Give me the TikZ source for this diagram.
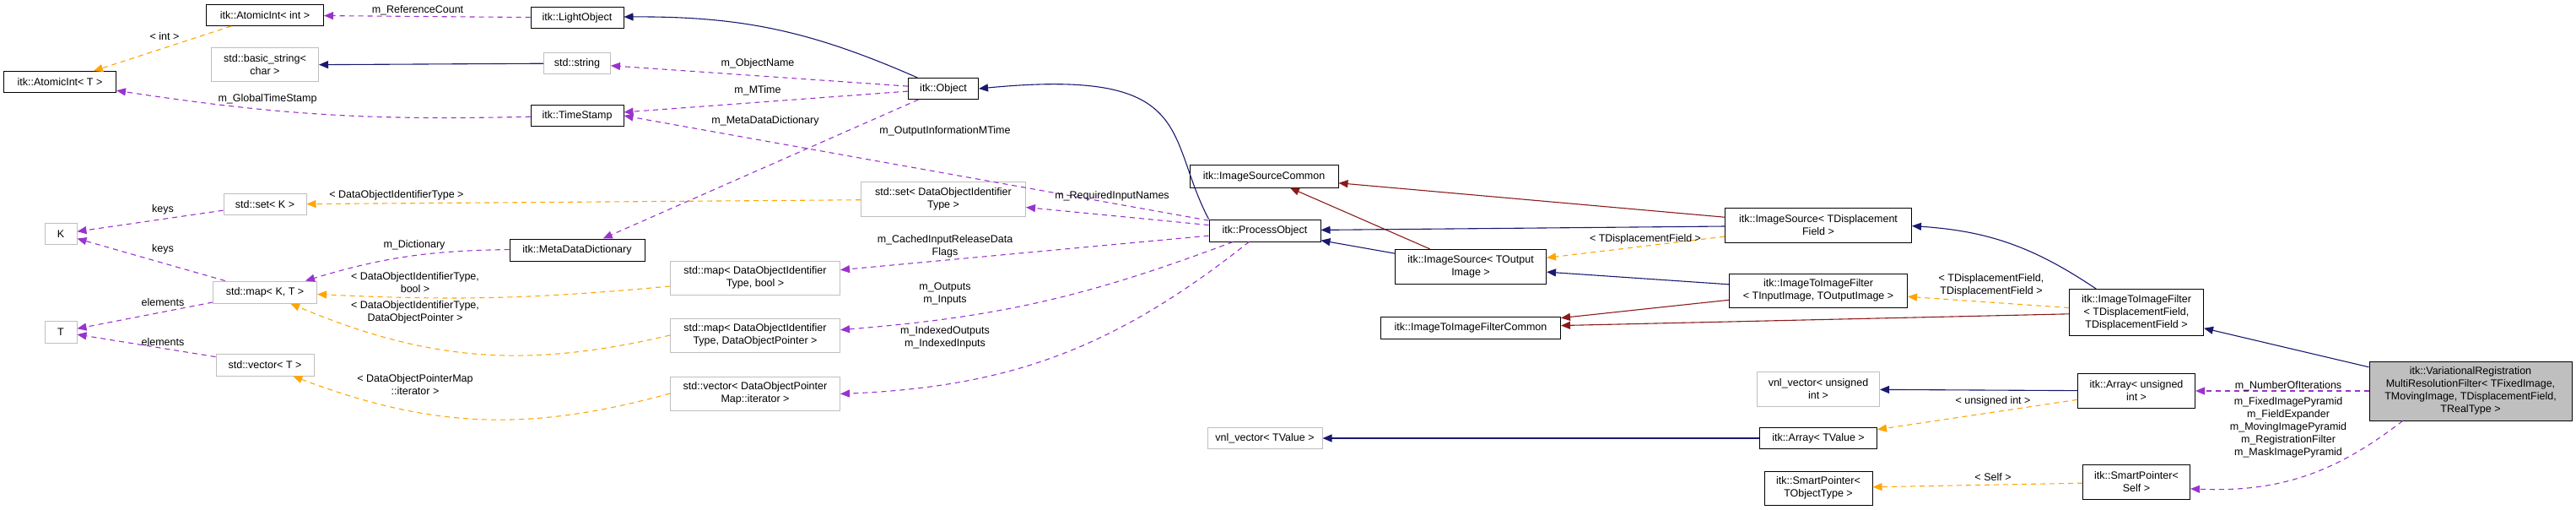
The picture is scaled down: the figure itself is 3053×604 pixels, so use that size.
\documentclass[tikz,border=0pt]{standalone}
\usepackage{fontspec}
\setmainfont{Liberation Sans}
\usetikzlibrary{arrows.meta}
\definecolor{pur}{HTML}{9A32CD}
\definecolor{org}{HTML}{FFA500}
\definecolor{blu}{HTML}{191970}
\definecolor{red}{HTML}{8B1A1A}
\definecolor{gbord}{HTML}{BFBFBF}
\begin{document}
\begin{tikzpicture}[x=1pt,y=-1pt,
  every node/.style={font=\fontsize{12.5}{15}\selectfont, inner sep=0pt, align=center},
  doc/.style={draw=black, line width=1pt, fill=white},
  und/.style={draw=gbord, line width=1pt, fill=white},
  mem/.style={draw=pur, dash pattern=on 6pt off 5pt, line width=1.1pt, -{Triangle[length=11pt,width=9pt,fill=pur]}},
  tpl/.style={draw=org, dash pattern=on 6pt off 5pt, line width=1.1pt, -{Triangle[length=11pt,width=9pt,fill=org]}},
  inh/.style={draw=blu, line width=1.1pt, -{Triangle[length=11pt,width=9pt,fill=blu]}},
  prv/.style={draw=red, line width=1.1pt, -{Triangle[length=11pt,width=9pt,fill=red]}},
  lbl/.style={fill=none}]
\useasboundingbox (0,0) rectangle (3053,604);
% nodes
\node[doc, minimum width=139, minimum height=25] (ai) at (314,18) {itk::AtomicInt< int >};
\node[doc, minimum width=110, minimum height=25] (lo) at (684,21) {itk::LightObject};
\node[und, minimum width=127, minimum height=40] (bs) at (314,77) {std::basic\_string<\\char >};
\node[und, minimum width=79, minimum height=25] (ss) at (684,75) {std::string};
\node[doc, minimum width=133, minimum height=25] (at) at (71,97) {itk::AtomicInt< T >};
\node[doc, minimum width=110, minimum height=25] (ts) at (684,137) {itk::TimeStamp};
\node[und, minimum width=98, minimum height=25] (sk) at (314,242) {std::set< K >};
\node[und, minimum width=38, minimum height=25] (K) at (72,277) {K};
\node[doc, minimum width=160, minimum height=26] (md) at (684,296) {itk::MetaDataDictionary};
\node[und, minimum width=123, minimum height=26] (mkt) at (314,346) {std::map< K, T >};
\node[und, minimum width=38, minimum height=26] (T) at (72,393) {T};
\node[und, minimum width=116, minimum height=26] (vt) at (314,432) {std::vector< T >};
\node[doc, minimum width=83, minimum height=25] (ob) at (1118,105) {itk::Object};
\node[und, minimum width=195, minimum height=41] (sd) at (1118,236) {std::set< DataObjectIdentifier\\Type >};
\node[und, minimum width=201, minimum height=40] (mb) at (895,329) {std::map< DataObjectIdentifier\\Type, bool >};
\node[und, minimum width=201, minimum height=40] (mp) at (895,397) {std::map< DataObjectIdentifier\\Type, DataObjectPointer >};
\node[und, minimum width=201, minimum height=40] (vd) at (895,466) {std::vector< DataObjectPointer\\Map::iterator >};
\node[doc, minimum width=132, minimum height=26] (po) at (1499,273) {itk::ProcessObject};
\node[doc, minimum width=176, minimum height=26] (isc) at (1498,209) {itk::ImageSourceCommon};
\node[doc, minimum width=179, minimum height=41] (iso) at (1743,316) {itk::ImageSource< TOutput\\Image >};
\node[doc, minimum width=213, minimum height=26] (ifc) at (1743,388) {itk::ImageToImageFilterCommon};
\node[doc, minimum width=221, minimum height=41] (isd) at (2155,267) {itk::ImageSource< TDisplacement\\Field >};
\node[doc, minimum width=211, minimum height=40] (ifio) at (2155,344) {itk::ImageToImageFilter\\< TInputImage, TOutputImage >};
\node[doc, minimum width=159, minimum height=55] (ifd) at (2532,370) {itk::ImageToImageFilter\\< TDisplacementField,\\TDisplacementField >};
\node[doc, fill=gbord, minimum width=240, minimum height=70] (vr) at (2928,463) {itk::VariationalRegistration\\MultiResolutionFilter< TFixedImage,\\TMovingImage, TDisplacementField,\\TRealType >};
\node[doc, minimum width=139, minimum height=41] (au) at (2532,463) {itk::Array< unsigned\\int >};
\node[und, minimum width=145, minimum height=41] (vu) at (2155,461) {vnl\_vector< unsigned\\int >};
\node[doc, minimum width=139, minimum height=25] (av) at (2155,519) {itk::Array< TValue >};
\node[und, minimum width=136, minimum height=25] (vv) at (1499,519) {vnl\_vector< TValue >};
\node[doc, minimum width=128, minimum height=40] (spt) at (2155,578) {itk::SmartPointer<\\TObjectType >};
\node[doc, minimum width=127, minimum height=41] (sps) at (2532,571) {itk::SmartPointer<\\Self >};
% edges
\draw[mem] (lo) -- (ai);
\node[lbl] (l1) at (495,12) {m\_ReferenceCount};
\draw[tpl] (ai) -- (at);
\node[lbl] (l2) at (195,43) {< int >};
\draw[inh] (ss) -- (bs);
\draw[mem] (ts) to[bend left=5] (at);
\node[lbl] (l3) at (317,117) {m\_GlobalTimeStamp};
\draw[inh] (ob) to[bend right=12] (lo);
\draw[mem] (ob) -- (ss);
\node[lbl] (l4) at (898,75) {m\_ObjectName};
\draw[mem] (ob) -- (ts);
\node[lbl] (l5) at (898,107) {m\_MTime};
\draw[mem] (ob) -- (md);
\node[lbl] (l6) at (907,143) {m\_MetaDataDictionary};
\draw[mem] (po) -- (ts.east);
\node[lbl] (l7) at (1120,155) {m\_OutputInformationMTime};
\draw[inh] (po.north west) .. controls (1380,160) and (1420,80) .. (ob.east);
\draw[tpl] (sd) -- (sk);
\node[lbl] (l8) at (470,231) {< DataObjectIdentifierType >};
\draw[mem] (sk) -- (K);
\node[lbl] (l9) at (193,248) {keys};
\draw[mem] (mkt) -- (K);
\node[lbl] (l10) at (193,295) {keys};
\draw[mem] (md) to[bend right=8] (mkt);
\node[lbl] (l11) at (491,290) {m\_Dictionary};
\draw[tpl] (mb) to[bend left=4] (mkt);
\node[lbl] (l12) at (492,335) {< DataObjectIdentifierType,\\bool >};
\draw[tpl] (mp.west) to[bend left=18] (mkt);
\node[lbl] (l13) at (492,370) {< DataObjectIdentifierType,\\DataObjectPointer >};
\draw[mem] (mkt) -- (T);
\node[lbl] (l14) at (193,358) {elements};
\draw[mem] (vt) -- (T);
\node[lbl] (l15) at (193,405) {elements};
\draw[tpl] (vd.west) to[bend left=18] (vt);
\node[lbl] (l16) at (492,456) {< DataObjectPointerMap\\::iterator >};
\draw[mem] (po) -- (sd);
\node[lbl] (l17) at (1318,232) {m\_RequiredInputNames};
\draw[mem] (po) -- (mb);
\node[lbl] (l18) at (1120,292) {m\_CachedInputReleaseData\\Flags};
\draw[mem] (po) to[bend left=8] (mp);
\node[lbl] (l19) at (1120,348) {m\_Outputs\\m\_Inputs};
\draw[mem] (po) to[bend left=18] (vd);
\node[lbl] (l20) at (1120,400) {m\_IndexedOutputs\\m\_IndexedInputs};
\draw[inh] (iso) -- (po);
\draw[prv] (iso) -- (isc);
\draw[prv] (isd) -- (isc);
\draw[inh] (isd) -- (po);
\draw[tpl] (isd) -- (iso);
\node[lbl] (l21) at (1950,283) {< TDisplacementField >};
\draw[inh] (ifio) -- (iso);
\draw[prv] (ifio) -- (ifc);
\draw[prv] (ifd) -- (ifc);
\draw[tpl] (ifd) -- (ifio);
\node[lbl] (l22) at (2360,338) {< TDisplacementField,\\TDisplacementField >};
\draw[inh] (ifd) to[bend right=15] (isd);
\draw[inh] (vr) -- (ifd);
\draw[mem] (vr) -- (au);
\node[lbl] (l23) at (2712,457) {m\_NumberOfIterations};
\draw[inh] (au) -- (vu);
\draw[tpl] (au) -- (av);
\node[lbl] (l24) at (2362,475) {< unsigned int >};
\draw[inh] (av) -- (vv);
\draw[mem] (vr.south west) ++(40,0) to[bend left=20] (sps);
\node[lbl] (l25) at (2712,506) {m\_FixedImagePyramid\\m\_FieldExpander\\m\_MovingImagePyramid\\m\_RegistrationFilter\\m\_MaskImagePyramid};
\draw[tpl] (sps) -- (spt);
\node[lbl] (l26) at (2362,565) {< Self >};
\end{tikzpicture}
\end{document}
